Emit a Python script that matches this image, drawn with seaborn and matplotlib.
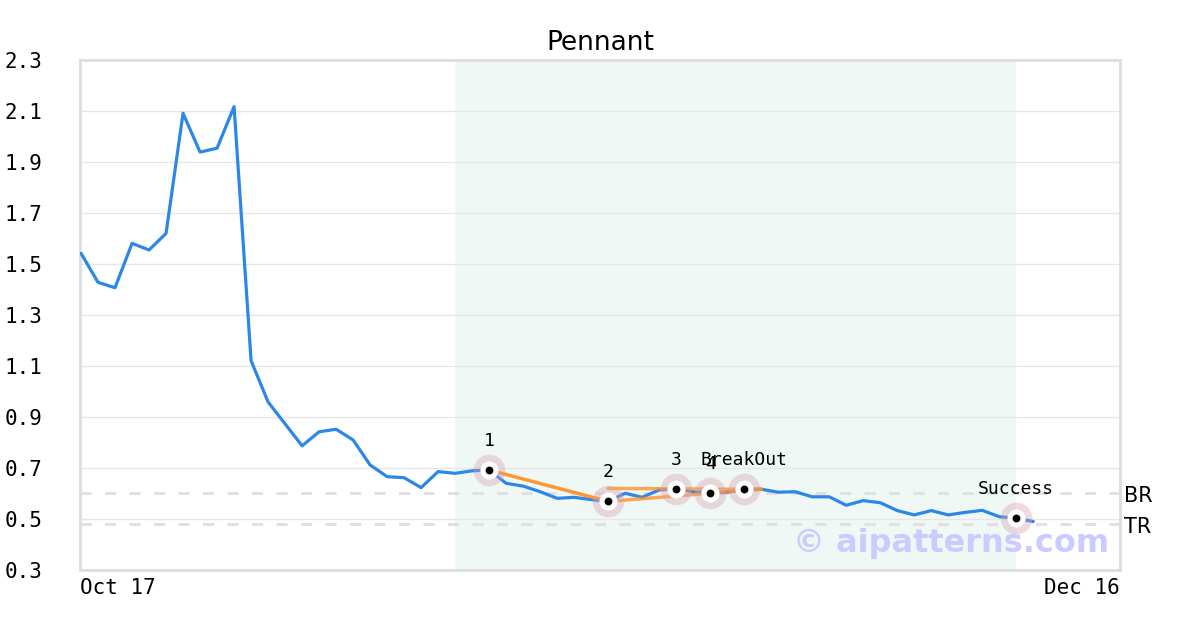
import matplotlib
matplotlib.use("Agg")
import matplotlib.pyplot as plt
import numpy as np
import pandas as pd
import seaborn as sns

# daily closes, Oct 17 -> Dec 12
prices = [
    1.542, 1.428, 1.407, 1.581, 1.555, 1.620, 2.091, 1.939, 1.954, 2.117,
    1.121, 0.959, 0.873, 0.787, 0.842, 0.852, 0.810, 0.712, 0.666, 0.662,
    0.623, 0.686, 0.679, 0.689, 0.692, 0.640, 0.629, 0.607, 0.581, 0.585,
    0.576, 0.569, 0.601, 0.585, 0.614, 0.618, 0.607, 0.601, 0.605, 0.617,
    0.617, 0.605, 0.607, 0.587, 0.587, 0.554, 0.572, 0.564, 0.533, 0.516,
    0.533, 0.516, 0.526, 0.534, 0.509, 0.503, 0.490,
]

# pattern points (day index, price, label)
point_idx = [24, 31, 35, 37, 39, 55]
point_val = [0.692, 0.569, 0.618, 0.601, 0.617, 0.503]
point_lbl = ["1", "2", "3", "4", "BreakOut", "Success"]

# pattern trend lines
pole_x, pole_y = [24, 31], [0.692, 0.569]
upper_x, upper_y = [31, 40], [0.620, 0.616]
lower_x, lower_y = [31, 40], [0.569, 0.617]

pattern_span = (22, 55)
br_level, tr_level = 0.602, 0.480
y_ticks = [0.3, 0.5, 0.7, 0.9, 1.1, 1.3, 1.5, 1.7, 1.9, 2.1, 2.3]
x_labels = ["Oct 17", "Dec 16"]

df = pd.DataFrame({"day": np.arange(len(prices)), "price": prices})

sns.set_theme(style="white")
plt.rcParams["font.family"] = ["DejaVu Sans Mono", "DejaVu Sans"]
plt.rcParams["text.color"] = "black"
plt.rcParams["xtick.color"] = "black"
plt.rcParams["ytick.color"] = "black"

fig = plt.figure(figsize=(12, 6.3), dpi=100)
ax = fig.add_axes([80 / 1200, 1 - 570 / 630, 1040 / 1200, 510 / 630])

ax.axvspan(*pattern_span, color="#eff8f4", zorder=0, lw=0)
for yv in y_ticks[1:-1]:
    ax.axhline(yv, color="#e6e6e6", lw=1, zorder=1)

sns.lineplot(data=df, x="day", y="price", ax=ax, color="#2b87e8", lw=2.3, zorder=3)

for xs, ys, a in [(pole_x, pole_y, 0.9), (upper_x, upper_y, 0.75), (lower_x, lower_y, 0.75)]:
    ax.plot(xs, ys, color="#ff8c1f", lw=2.5, alpha=a, zorder=4)

# support / resistance dashed levels
for lvl, name in [(br_level, "BR"), (tr_level, "TR")]:
    ax.axhline(lvl, color="#e0e0e0", lw=2.1, ls=(0, (3.8, 4.6)), zorder=2)
    ax.annotate(name, (1.0, lvl), xycoords=ax.get_yaxis_transform(),
                xytext=(3, -2), textcoords="offset points",
                ha="left", va="center", fontsize=15, family="DejaVu Sans")

ax.scatter(point_idx, point_val, s=520, color="#d7a0b0", alpha=0.38, lw=0, zorder=5)
ax.scatter(point_idx, point_val, s=170, color="white", lw=0, zorder=6)
ax.scatter(point_idx, point_val, s=32, color="black", lw=0, zorder=7)
for xi, yv, lbl in zip(point_idx, point_val, point_lbl):
    ax.annotate(lbl, (xi, yv), xytext=(0, 21), textcoords="offset points",
                ha="center", va="center", fontsize=13, zorder=8)

ax.text(0.99, 0.052, "© aipatterns.com", transform=ax.transAxes, ha="right",
        va="center", fontsize=23, fontweight="bold", color="#cbcbff",
        family="DejaVu Sans", zorder=9)

ax.set_xlim(-0.06, 61.1)
ax.set_ylim(0.3, 2.3)
ax.set_yticks(y_ticks)
ax.set_yticklabels([f"{v:.1f}" for v in y_ticks])
ax.set_xticks([-0.06, 61.1])
ax.set_xticklabels(x_labels)
xt = ax.get_xticklabels()
xt[0].set_ha("left")
xt[1].set_ha("right")
ax.tick_params(axis="y", length=0, pad=27, labelsize=15)
ax.tick_params(axis="x", length=0, pad=6, labelsize=15)
ax.set_xlabel("")
ax.set_ylabel("")
for s in ax.spines.values():
    s.set_color("#dddddd")
    s.set_linewidth(2)

ax.set_title("Pennant", fontsize=19, family="DejaVu Sans", pad=7)

fig.savefig("out.png", dpi=100)
